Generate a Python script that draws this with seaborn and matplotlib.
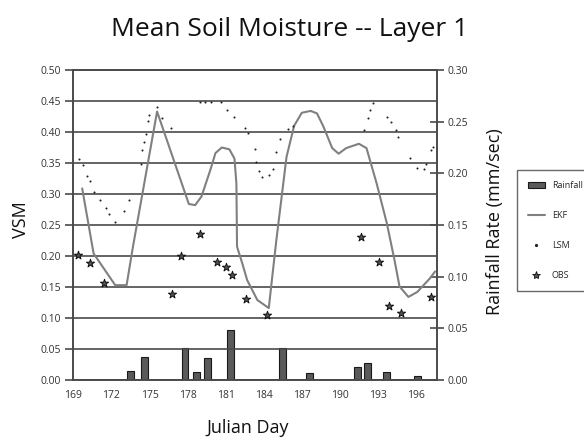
import numpy as np
import pandas as pd
import matplotlib
matplotlib.use("Agg")
import matplotlib.pyplot as plt
import seaborn as sns
from matplotlib.lines import Line2D
from matplotlib.patches import Patch

# ---------------- data ----------------
rain_day = [173.5, 174.6, 177.8, 178.7, 179.6, 181.4, 185.5, 187.6, 191.4, 192.2, 193.7, 196.1]
rain_rate = [0.0087, 0.0226, 0.031, 0.008, 0.021, 0.0484, 0.031, 0.0065, 0.013, 0.0168, 0.0077, 0.004]

ekf_day = [169.7, 170.6, 172.3, 173.2, 173.7, 175.6, 178.1, 178.6, 179.1, 179.8, 180.2, 180.7,
           181.3, 181.7, 181.85, 181.9, 182.3, 182.7, 183.5, 184.4, 185.0, 185.8, 186.4, 187.0,
           187.7, 188.2, 188.7, 189.4, 189.9, 190.5, 191.5, 192.1, 192.9, 193.7, 194.3, 194.7,
           195.4, 196.1, 197.1, 197.5]
ekf_vsm = [0.309, 0.204, 0.153, 0.153, 0.215, 0.433, 0.284, 0.282, 0.296, 0.339, 0.366, 0.375,
           0.372, 0.357, 0.317, 0.215, 0.189, 0.161, 0.129, 0.116, 0.226, 0.360, 0.410, 0.431,
           0.434, 0.430, 0.409, 0.374, 0.365, 0.374, 0.381, 0.374, 0.317, 0.253, 0.194, 0.151,
           0.134, 0.142, 0.164, 0.175]

lsm_day = [169.45, 169.74, 170.1, 170.3, 170.65, 171.1, 171.6, 171.8, 172.3, 173.0, 173.4,
           174.3, 174.4, 174.6, 174.7, 174.9, 175.0, 175.6, 176.0, 176.7, 179.0, 179.4, 179.85,
           180.6, 181.1, 181.7, 182.5, 182.8, 183.3, 183.4, 183.6, 183.9, 184.4, 184.7, 185.0,
           185.3, 185.9, 186.3, 191.9, 192.2, 192.4, 192.6, 193.7, 194.0, 194.4, 194.6, 195.5,
           196.1, 196.6, 196.8, 197.2, 197.3]
lsm_vsm = [0.3565, 0.347, 0.329, 0.321, 0.304, 0.290, 0.277, 0.267, 0.255, 0.273, 0.290,
           0.348, 0.371, 0.384, 0.397, 0.418, 0.427, 0.441, 0.423, 0.407, 0.448, 0.449, 0.448,
           0.448, 0.435, 0.425, 0.406, 0.399, 0.372, 0.352, 0.337, 0.328, 0.331, 0.340, 0.367,
           0.388, 0.405, 0.409, 0.403, 0.422, 0.435, 0.446, 0.425, 0.416, 0.403, 0.392, 0.358,
           0.342, 0.340, 0.349, 0.371, 0.376]

obs_day = [169.35, 170.3, 171.45, 176.8, 177.5, 179.0, 180.35, 181.0, 181.5, 182.6, 184.3,
           191.7, 193.1, 193.85, 194.8, 197.2]
obs_vsm = [0.2016, 0.188, 0.156, 0.138, 0.2005, 0.235, 0.190, 0.183, 0.170, 0.131, 0.105,
           0.231, 0.190, 0.119, 0.1075, 0.134]

x_ticks = [169, 172, 175, 178, 181, 184, 187, 190, 193, 196]
vsm_ticks = [0.00, 0.05, 0.10, 0.15, 0.20, 0.25, 0.30, 0.35, 0.40, 0.45, 0.50]
rain_ticks = [0.00, 0.05, 0.10, 0.15, 0.20, 0.25, 0.30]

# ---------------- figure ----------------
sns.set_style("white")
FONT = ["Open Sans", "DejaVu Sans"]
plt.rcParams["font.family"] = FONT

W, H = 584, 438
fig = plt.figure(figsize=(W / 100, H / 100), dpi=100)
L, R, T, B = 73.3, 436.7, 70, 380
ax = fig.add_axes([L / W, 1 - B / H, (R - L) / W, (B - T) / H])
ax2 = ax.twinx()

GRID = "#4a4a4a"
TICKC = "#333333"

# rainfall bars on the right axis
ax2.bar(rain_day, rain_rate, width=0.55, color="#5a5a5a", edgecolor="#1a1a1a",
        linewidth=0.8, zorder=2)

# left axis drawn above
ax.set_zorder(ax2.get_zorder() + 1)
ax.patch.set_visible(False)

ekf = pd.DataFrame({"day": ekf_day, "vsm": ekf_vsm})
lsm = pd.DataFrame({"day": lsm_day, "vsm": lsm_vsm})
obs = pd.DataFrame({"day": obs_day, "vsm": obs_vsm})

sns.lineplot(data=ekf, x="day", y="vsm", ax=ax, color="#808080", linewidth=1.5,
             sort=False, zorder=4)
sns.scatterplot(data=lsm, x="day", y="vsm", ax=ax, color="#222222", s=2.2, marker="o",
                linewidth=0, zorder=5)
sns.scatterplot(data=obs, x="day", y="vsm", ax=ax, color="#555555", edgecolor="#111111",
                s=38, marker="*", linewidth=0.7, zorder=6)

xmax = 169 + (R - L) / ((416 - 73.3) / 27)
ax.set_xlim(169, xmax)
ax.set_ylim(0, 0.5)
ax2.set_ylim(0, 0.3)
ax.set_xticks(x_ticks)
ax.set_xticklabels([str(t) for t in x_ticks])
ax.set_yticks(vsm_ticks)
ax.set_yticklabels([f"{v:.2f}" for v in vsm_ticks])
ax2.set_yticks(rain_ticks)
ax2.set_yticklabels([f"{v:.2f}" for v in rain_ticks])

for a in (ax, ax2):
    for s in a.spines.values():
        s.set_color(GRID)
        s.set_linewidth(1.2)
ax.spines["top"].set_visible(True)

ax.grid(axis="y", color=GRID, linewidth=1.2)
ax.grid(axis="x", visible=False)
ax2.grid(False)

ax.tick_params(axis="y", direction="out", length=6, width=1.2, color=GRID,
               labelsize=7.5, labelcolor=TICKC, pad=3)
ax.tick_params(axis="x", direction="out", length=5, width=1.0, color=GRID,
               labelsize=7.5, labelcolor=TICKC, pad=2)
ax2.tick_params(axis="y", direction="inout", length=10, width=1.2, color=GRID,
                labelsize=7.5, labelcolor=TICKC, pad=3)

ax.set_xlabel("")
ax.set_ylabel("")
ax2.set_ylabel("")

fig.text(290 / W, 1 - 30 / H, "Mean Soil Moisture -- Layer 1", ha="center", va="center",
         fontsize=19, color="#111111")
fig.text(248 / W, 1 - 428 / H, "Julian Day", ha="center", va="center", fontsize=13,
         color="#111111")
fig.text(21.5 / W, 1 - 220 / H, "VSM", ha="center", va="center", rotation=90,
         fontsize=13, color="#111111")
fig.text(495 / W, 1 - 222 / H, "Rainfall Rate (mm/sec)", ha="center", va="center",
         rotation=90, fontsize=13, color="#111111")

handles = [
    Patch(facecolor="#5a5a5a", edgecolor="#1a1a1a", linewidth=0.8),
    Line2D([], [], color="#808080", linewidth=1.5),
    Line2D([], [], color="#222222", marker="o", markersize=1.3, linestyle="none"),
    Line2D([], [], color="#555555", marker="*", markersize=6, markeredgecolor="#111111",
           markeredgewidth=0.6, linestyle="none"),
]
labels = ["Rainfall", "EKF", "LSM", "OBS"]
leg = fig.legend(handles, labels, loc="upper left", bbox_to_anchor=(512 / W, 1 - 165 / H),
                 fontsize=6.5, labelspacing=2.3, frameon=True, fancybox=False,
                 edgecolor="#444444", borderpad=1.3, handlelength=1.8, handleheight=0.5,
                 handletextpad=0.8)
leg.get_frame().set_linewidth(1.0)

fig.savefig("out.png", dpi=100)
